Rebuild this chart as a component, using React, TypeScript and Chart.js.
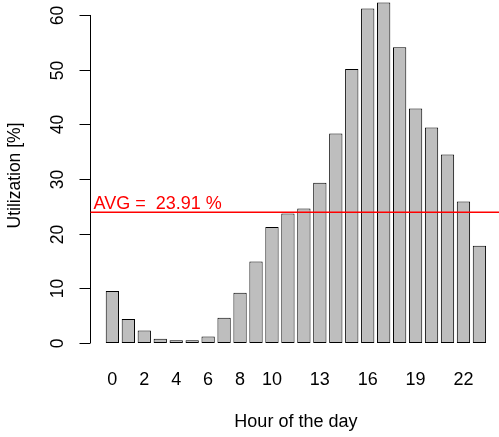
import React, { useEffect, useRef } from "react";
import { Chart, registerables } from "chart.js";

Chart.register(...registerables);

const hours = ["0","1","2","3","4","5","6","7","8","9","10","11","12","13","14","15","16","17","18","19","20","21","22","23"];
const utilization = [9.5, 4.4, 2.3, 0.8, 0.5, 0.5, 1.2, 4.6, 9.2, 14.9, 21.2, 23.7, 24.6, 29.3, 38.3, 50.1, 61.2, 62.3, 54.1, 42.9, 39.4, 34.5, 25.9, 17.8];
const shownHourLabels = ["0","2","4","6","8","10","13","16","19","22"];
const yTickValues = [0, 10, 20, 30, 40, 50, 60];
const avgUtilization = 23.91;
const avgLabel = "AVG =  23.91 %";
const xTitle = "Hour of the day";
const yTitle = "Utilization [%]";

const FONT_FAMILY = "'Liberation Sans', Arial, Helvetica, sans-serif";

const rAxesPlugin = {
  id: "rAxes",
  afterDatasetsDraw(chart: any) {
    const { ctx, chartArea } = chart;
    const y = chart.scales.y;
    const axisX = Math.round(chartArea.left - 14) + 0.5;
    ctx.save();
    ctx.strokeStyle = "#000";
    ctx.lineWidth = 1;
    const y0 = y.getPixelForValue(yTickValues[0]);
    const y1 = y.getPixelForValue(yTickValues[yTickValues.length - 1]);
    ctx.beginPath();
    ctx.moveTo(axisX, y0);
    ctx.lineTo(axisX, y1);
    ctx.stroke();
    ctx.font = `17.5px ${FONT_FAMILY}`;
    ctx.fillStyle = "#000";
    ctx.textAlign = "center";
    ctx.textBaseline = "middle";
    for (const v of yTickValues) {
      const py = Math.round(y.getPixelForValue(v)) + 0.5;
      ctx.beginPath();
      ctx.moveTo(axisX, py);
      ctx.lineTo(axisX - 11, py);
      ctx.stroke();
      ctx.save();
      ctx.translate(axisX - 32, py);
      ctx.rotate(-Math.PI / 2);
      ctx.fillText(String(v), 0, 0);
      ctx.restore();
    }
    ctx.save();
    ctx.translate(15, (chartArea.top + chartArea.bottom) / 2 - 3);
    ctx.rotate(-Math.PI / 2);
    ctx.fillText(yTitle, 0, 0);
    ctx.restore();
    const ay = y.getPixelForValue(avgUtilization);
    ctx.strokeStyle = "#FF0000";
    ctx.lineWidth = 1.5;
    ctx.beginPath();
    ctx.moveTo(axisX, ay);
    ctx.lineTo(chart.width, ay);
    ctx.stroke();
    ctx.fillStyle = "#FF0000";
    ctx.font = `18px ${FONT_FAMILY}`;
    ctx.textAlign = "left";
    ctx.textBaseline = "alphabetic";
    ctx.fillText(avgLabel, axisX + 3, ay - 3);
    ctx.restore();
  },
};

export default function App() {
  const canvasRef = useRef<HTMLCanvasElement | null>(null);

  useEffect(() => {
    document.body.style.margin = "0";
    const canvas = canvasRef.current;
    if (!canvas) return;
    const font = { family: FONT_FAMILY, size: 18 };
    const chart = new Chart(canvas, {
      type: "bar",
      data: {
        labels: hours,
        datasets: [
          {
            data: utilization,
            backgroundColor: "#BEBEBE",
            borderColor: "#000000",
            borderWidth: 1,
            borderSkipped: false,
            barPercentage: 0.8333,
            categoryPercentage: 1,
          },
        ],
      },
      options: {
        animation: false,
        responsive: false,
        devicePixelRatio: 1,
        layout: { padding: { left: 104.4, right: 11.6, top: 0, bottom: 0 } },
        plugins: {
          legend: { display: false },
          tooltip: { enabled: false },
        },
        scales: {
          x: {
            grid: { display: false, drawTicks: false },
            border: { display: false },
            ticks: {
              autoSkip: false,
              maxRotation: 0,
              minRotation: 0,
              padding: 12.2,
              color: "#000",
              font,
              callback: (_v: any, i: number) =>
                shownHourLabels.includes(hours[i]) ? hours[i] : "",
            },
            title: {
              display: true,
              text: xTitle,
              color: "#000",
              font,
              padding: { top: 8.2, bottom: 4.2 },
            },
          },
          y: { display: false, min: -2.56, max: 62.74 },
        },
      },
      plugins: [rAxesPlugin],
    });
    return () => chart.destroy();
  }, []);

  return (
    <div style={{ width: 499, height: 437 }}>
      <canvas ref={canvasRef} width={499} height={437} />
    </div>
  );
}
